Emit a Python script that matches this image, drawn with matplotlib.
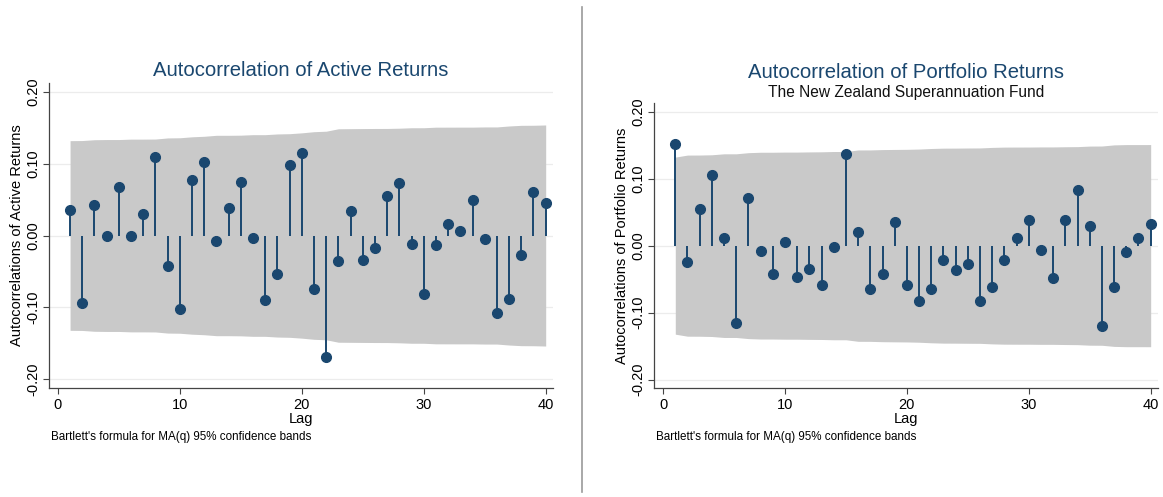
import numpy as np
import matplotlib.pyplot as plt

plt.rcParams['font.family'] = ['Liberation Sans', 'DejaVu Sans']

# Autocorrelations, lags 1..40
lags = np.arange(1, 41)
acf_active = [0.035, -0.094, 0.042, -0.001, 0.067, 0.000, 0.030, 0.110, -0.042, -0.102,
              0.077, 0.103, -0.007, 0.039, 0.075, -0.004, -0.090, -0.054, 0.098, 0.115,
              -0.075, -0.169, -0.035, 0.034, -0.034, -0.018, 0.055, 0.073, -0.012, -0.082,
              -0.013, 0.016, 0.006, 0.049, -0.005, -0.108, -0.089, -0.027, 0.060, 0.045]
acf_portfolio = [0.152, -0.024, 0.055, 0.106, 0.012, -0.115, 0.071, -0.008, -0.043, 0.006,
                 -0.047, -0.035, -0.059, -0.002, 0.137, 0.020, -0.065, -0.042, 0.036, -0.059,
                 -0.083, -0.065, -0.022, -0.037, -0.028, -0.082, -0.062, -0.022, 0.011, 0.038,
                 -0.007, -0.048, 0.039, 0.083, 0.030, -0.120, -0.062, -0.009, 0.011, 0.032]
n_obs = 220

yticks = [-0.20, -0.10, 0.00, 0.10, 0.20]
ytick_labels = ['-0.20', '-0.10', '0.00', '0.10', '0.20']
xticks = [0, 10, 20, 30, 40]

navy = '#1a476f'
band_col = '#c9c9c9'
axis_col = '#444444'


def bartlett_band(r, n):
    # 95% band from Bartlett's formula for MA(q)
    r = np.asarray(r)
    cum = np.concatenate([[0.0], np.cumsum(r[:-1] ** 2)])
    return 1.96 * np.sqrt((1 + 2 * cum) / n)


def acf_panel(ax, r, ylabel):
    band = bartlett_band(r, n_obs)
    for y in yticks:
        ax.axhline(y, color='#ececec', lw=0.9, zorder=0)
    ax.fill_between(lags, -band, band, color=band_col, lw=0, zorder=1)
    ax.vlines(lags, 0, r, color=navy, lw=1.4, zorder=2)
    ax.plot(lags, r, 'o', color=navy, ms=7, zorder=3)
    ax.set_xlim(-0.75, 40.6)
    ax.set_ylim(-0.2125, 0.2125)
    ax.set_yticks(yticks)
    ax.set_yticklabels(ytick_labels, rotation=90, va='center', fontsize=10.5)
    ax.set_xticks(xticks)
    ax.tick_params(axis='x', labelsize=10.5, length=4, color=axis_col, pad=3)
    ax.tick_params(axis='y', length=4, color=axis_col, pad=2)
    for s in ['top', 'right']:
        ax.spines[s].set_visible(False)
    for s in ['left', 'bottom']:
        ax.spines[s].set_color(axis_col)
        ax.spines[s].set_linewidth(0.9)
    ax.set_xlabel('Lag', fontsize=10.5, labelpad=0)
    ax.set_ylabel(ylabel, fontsize=10.5, labelpad=2)


fig = plt.figure(figsize=(11.63, 4.97), dpi=100)

ax1 = fig.add_axes([0.0419, 0.2193, 0.4336, 0.6137])
acf_panel(ax1, acf_active, 'Autocorrelations of Active Returns')
ax2 = fig.add_axes([0.5623, 0.2193, 0.4334, 0.5729])
acf_panel(ax2, acf_portfolio, 'Autocorrelations of Portfolio Returns')

fig.text(0.2586, 1 - 70 / 497, 'Autocorrelation of Active Returns',
         ha='center', va='center', fontsize=14.6, color=navy)
fig.text(0.779, 1 - 73 / 497, 'Autocorrelation of Portfolio Returns',
         ha='center', va='center', fontsize=14.6, color=navy)
fig.text(0.779, 1 - 92 / 497, 'The New Zealand Superannuation Fund',
         ha='center', va='center', fontsize=11.2, color='#111111')

note = "Bartlett's formula for MA(q) 95% confidence bands"
fig.text(51 / 1163, 1 - 437 / 497, note, ha='left', va='center', fontsize=8.4)
fig.text(656 / 1163, 1 - 437 / 497, note, ha='left', va='center', fontsize=8.4)

# divider between the two graphs
fig.add_artist(plt.Line2D([581.5 / 1163] * 2, [1 - 7 / 497, 1 - 492 / 497],
                          color='#9a9a9a', lw=1.2))

fig.savefig('out.png', dpi=100)
